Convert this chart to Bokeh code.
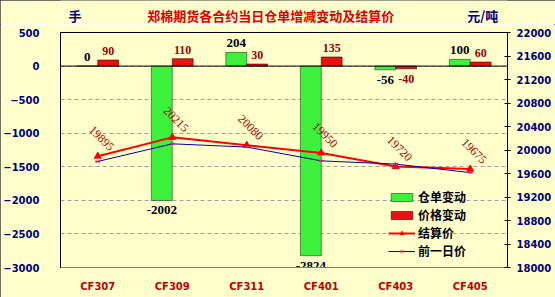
import math
from bokeh.plotting import figure
from bokeh.layouts import column
from bokeh.models import (ColumnDataSource, FactorRange, Range1d, LinearAxis, FixedTicker,
                          Span, Legend, LegendItem)
from bokeh.transform import dodge
from bokeh.core.properties import value
from bokeh.embed import file_html
from bokeh.resources import INLINE

categories = ["CF307", "CF309", "CF311", "CF401", "CF403", "CF405"]
warrant_change = [0, -2002, 204, -2824, -56, 100]
price_change = [90, 110, 30, 135, -40, 60]
settle_price = [19895, 20215, 20080, 19950, 19720, 19675]
prev_price = [19805, 20105, 20050, 19815, 19760, 19615]
left_ticks = [-3000, -2500, -2000, -1500, -1000, -500, 0, 500]
right_ticks = [18000, 18400, 18800, 19200, 19600, 20000, 20400, 20800, 21200, 21600, 22000]

title_text = "郑棉期货各合约当日仓单增减变动及结算价"
left_unit = "手"
right_unit = "元/吨"

BG = "#FFFFCC"
CJK = "Noto Sans CJK SC"
W = 555
HEAD_H = 24

# ---------- header strip (title and unit labels) ----------
h = figure(width=W, height=HEAD_H, output_backend="svg", toolbar_location=None,
           x_range=Range1d(0, W), y_range=Range1d(HEAD_H, 0),
           min_border=0, x_axis_type=None, y_axis_type=None)
h.background_fill_color = BG
h.border_fill_color = BG
h.outline_line_color = None
h.grid.grid_line_color = None
h.text(x=[261], y=[15], text=[title_text], text_align="center", text_baseline="middle",
       text_font=value(CJK), text_font_style="bold", text_font_size="13px", text_color="#E00000")
h.text(x=[10], y=[15], text=[left_unit], text_align="left", text_baseline="middle",
       text_font=value(CJK), text_font_style="bold", text_font_size="13px", text_color="#000080")
h.text(x=[505], y=[15], text=[right_unit], text_align="left", text_baseline="middle",
       text_font=value(CJK), text_font_style="bold", text_font_size="13px", text_color="#000080")

# ---------- main chart ----------
p = figure(width=W, height=297 - HEAD_H, output_backend="svg", toolbar_location=None,
           x_range=FactorRange(*categories, range_padding=0),
           y_range=Range1d(left_ticks[0], left_ticks[-1]),
           min_border_left=53, min_border_right=48, min_border_top=32 - HEAD_H, min_border_bottom=30)
p.extra_y_ranges = {"price": Range1d(right_ticks[0], right_ticks[-1])}
p.background_fill_color = BG
p.border_fill_color = BG
p.outline_line_color = "black"
p.outline_line_width = 1

p.xaxis.axis_line_color = "#808080"
p.xaxis.major_tick_line_color = None
p.xaxis.minor_tick_line_color = None
p.xaxis.major_label_text_color = "#C00000"
p.xaxis.major_label_text_font = "DejaVu Sans"
p.xaxis.major_label_text_font_style = "bold"
p.xaxis.major_label_text_font_size = "10px"
p.xaxis.major_label_standoff = 7

p.yaxis.ticker = FixedTicker(ticks=left_ticks)
p.yaxis.axis_line_color = "black"
p.yaxis.major_tick_line_color = None
p.yaxis.minor_tick_line_color = None
p.yaxis.major_label_text_color = "#000080"
p.yaxis.major_label_text_font = "DejaVu Sans"
p.yaxis.major_label_text_font_style = "bold"
p.yaxis.major_label_text_font_size = "10px"
p.yaxis.major_label_standoff = 15

ra = LinearAxis(y_range_name="price", ticker=FixedTicker(ticks=right_ticks))
ra.axis_line_color = "black"
ra.major_tick_in = 3
ra.major_tick_out = 3
ra.major_tick_line_color = "black"
ra.minor_tick_line_color = None
ra.major_label_text_color = "#000080"
ra.major_label_text_font = "DejaVu Sans"
ra.major_label_text_font_style = "bold"
ra.major_label_text_font_size = "10px"
ra.major_label_standoff = 6
p.add_layout(ra, "right")

p.xgrid.grid_line_color = None
p.ygrid.ticker = FixedTicker(ticks=left_ticks)
p.ygrid.grid_line_color = "#A0A0A0"
p.ygrid.grid_line_dash = "4 3"

p.add_layout(Span(location=0, dimension="width", line_color="black", line_width=1))

src = ColumnDataSource(dict(cat=categories, w=warrant_change, pc=price_change,
                            sp=settle_price, pp=prev_price,
                            sl=[str(v) for v in settle_price]))

g_bar = p.vbar(x=dodge("cat", -0.14, range=p.x_range), top="w", bottom=0, width=0.28,
               source=src, fill_color="#3CF03C", line_color="#204020", line_width=0.6)
r_bar = p.vbar(x=dodge("cat", 0.14, range=p.x_range), top="pc", bottom=0, width=0.28,
               source=src, fill_color="#E81010", line_color="#400000", line_width=0.6)

r_line = p.line(x="cat", y="sp", source=src, y_range_name="price", line_color="#FF0000", line_width=2)
r_mark = p.scatter(x="cat", y="sp", source=src, y_range_name="price", marker="triangle",
                   size=7, fill_color="#FF0000", line_color="#FF0000")
b_line = p.line(x="cat", y="pp", source=src, y_range_name="price", line_color="#0000B0", line_width=1)
b_mark = p.scatter(x="cat", y="pp", source=src, y_range_name="price", marker="dash",
                   size=5, line_color="#D02060", line_width=2)

def subset(vals, labels, pos):
    idx = [i for i, v in enumerate(vals) if (v >= 0) == pos]
    return dict(cat=[categories[i] for i in idx], y=[vals[i] for i in idx], t=[labels[i] for i in idx])

for vals, off, color, fsize in [
        (warrant_change, -0.14, "black", "13px"),
        (price_change, 0.14, "#990000", "12px")]:
    labels = [str(v) for v in vals]
    for pos in (True, False):
        s = ColumnDataSource(subset(vals, labels, pos))
        p.text(x=dodge("cat", off, range=p.x_range), y="y", text="t", source=s,
               text_align="center", text_baseline="bottom" if pos else "top",
               y_offset=-5 if pos else 6,
               text_font=value("Liberation Serif"), text_font_style="bold",
               text_font_size=fsize, text_color=color)

p.text(x="cat", y="sp", text="sl", source=src, y_range_name="price",
       text_align="center", text_baseline="middle", angle=-math.pi / 4,
       x_offset=4, y_offset=-18,
       text_font=value("Liberation Serif"), text_font_size="12px", text_color="#AA0000")

legend = Legend(items=[LegendItem(label="仓单变动", renderers=[g_bar]),
                       LegendItem(label="价格变动", renderers=[r_bar]),
                       LegendItem(label="结算价", renderers=[r_line, r_mark]),
                       LegendItem(label="前一日价", renderers=[b_line, b_mark])],
                location=(328, 8), background_fill_alpha=0, border_line_color=None,
                padding=0, margin=0, spacing=1, label_height=14, glyph_height=10,
                glyph_width=27, label_standoff=3,
                label_text_font=CJK, label_text_font_style="bold",
                label_text_font_size="12px", label_text_color="black")
p.add_layout(legend, "center")

layout = column(h, p, spacing=0)
layout.styles = {"outline": "1px solid #404040", "outline-offset": "-1px"}

open("out.html", "w").write(file_html(layout, INLINE))
